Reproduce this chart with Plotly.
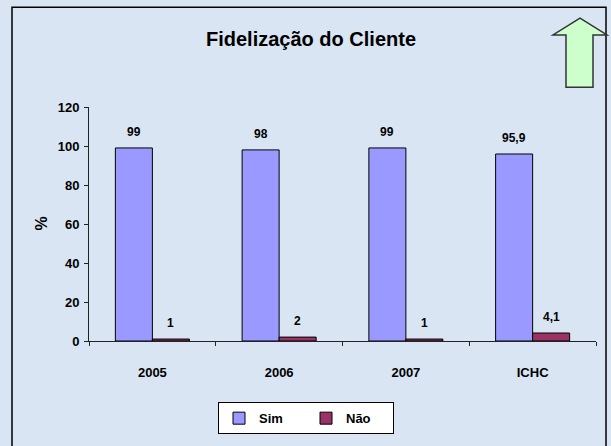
import plotly.graph_objects as go

categories = ["2005", "2006", "2007", "ICHC"]
sim_values = [99, 98, 99, 95.9]
nao_values = [1, 2, 1, 4.1]
series_names = ["Sim", "Não"]
y_ticks = [0, 20, 40, 60, 80, 100, 120]
title_text = "Fidelização do Cliente"

W, H = 611, 446
L, R, T, B = 89, 596, 107, 344
FONT = "'Liberation Sans', Arial, sans-serif"
BG = "#D9E5F2"

def px_x(p):
    return (p - L) / (R - L)

def px_y(p):
    return (B - p) / (B - T)

def fmt(v):
    return ("%g" % v).replace(".", ",")

fig = go.Figure()
fig.add_trace(go.Bar(name=series_names[0], x=categories, y=sim_values,
                     marker=dict(color="#9999FF", line=dict(color="black", width=1))))
fig.add_trace(go.Bar(name=series_names[1], x=categories, y=nao_values,
                     marker=dict(color="#993366", line=dict(color="black", width=1))))

annotations = []
bar_half = 18.5
for i, c in enumerate(categories):
    for vals, sh in ((sim_values, -bar_half), (nao_values, bar_half)):
        annotations.append(dict(x=i, y=vals[i], xref="x", yref="y", text=fmt(vals[i]),
                                showarrow=False, yanchor="bottom", xshift=sh, yshift=7,
                                font=dict(family=FONT, size=12, color="black", weight="bold")))

annotations.append(dict(x=px_x(310.5), y=px_y(38), xref="paper", yref="paper",
                        text="<b>" + title_text + "</b>", showarrow=False,
                        xanchor="center", yanchor="middle",
                        font=dict(family=FONT, size=20, color="black")))
annotations.append(dict(x=px_x(42), y=px_y(225), xref="paper", yref="paper",
                        text="<b>%</b>", showarrow=False, textangle=-90,
                        xanchor="center", yanchor="middle",
                        font=dict(family=FONT, size=16, color="black")))

arrow_pts = [(580, 17), (607, 34), (593, 34), (593, 87), (566, 87), (566, 34), (553, 34)]
path = "M " + " L ".join("%f,%f" % (px_x(a), px_y(b)) for a, b in arrow_pts) + " Z"

shapes = [
    dict(type="rect", xref="paper", yref="paper", x0=px_x(12), x1=px_x(606),
         y0=px_y(6), y1=px_y(470), line=dict(color="black", width=1.5), layer="below"),
    dict(type="path", xref="paper", yref="paper", path=path,
         fillcolor="#CCFFCC", line=dict(color="#333333", width=1.5)),
]

fig.update_layout(
    width=W, height=H,
    margin=dict(l=L, r=W - R, t=T, b=H - B, pad=0),
    paper_bgcolor=BG, plot_bgcolor=BG,
    barmode="group", bargap=0.416, bargroupgap=0,
    showlegend=True,
    legend=dict(orientation="h", x=px_x(306), y=px_y(406), xanchor="center", yanchor="top",
                bgcolor="white", bordercolor="black", borderwidth=1,
                font=dict(family=FONT, size=13, color="black", weight="bold"),
                entrywidth=42, itemwidth=30),
    xaxis=dict(type="category", range=[-0.5, len(categories) - 0.5],
               showline=True, linecolor="#222222", linewidth=1,
               ticks="outside", ticklen=4, tickcolor="#222222", tickson="boundaries",
               showgrid=False, zeroline=False,
               tickfont=dict(family=FONT, size=13, color="black", weight="bold"),
               ticklabelstandoff=19),
    yaxis=dict(range=[0, 120], tickvals=y_ticks, showline=True, linecolor="#222222",
               linewidth=1, ticks="outside", ticklen=4, tickcolor="#222222",
               showgrid=False, zeroline=False,
               tickfont=dict(family=FONT, size=13, color="black", weight="bold"),
               ticklabelstandoff=2),
    annotations=annotations,
    shapes=shapes,
)

fig.write_html("out.html", config={"displayModeBar": False},
               post_script="document.body.style.margin='0';")
